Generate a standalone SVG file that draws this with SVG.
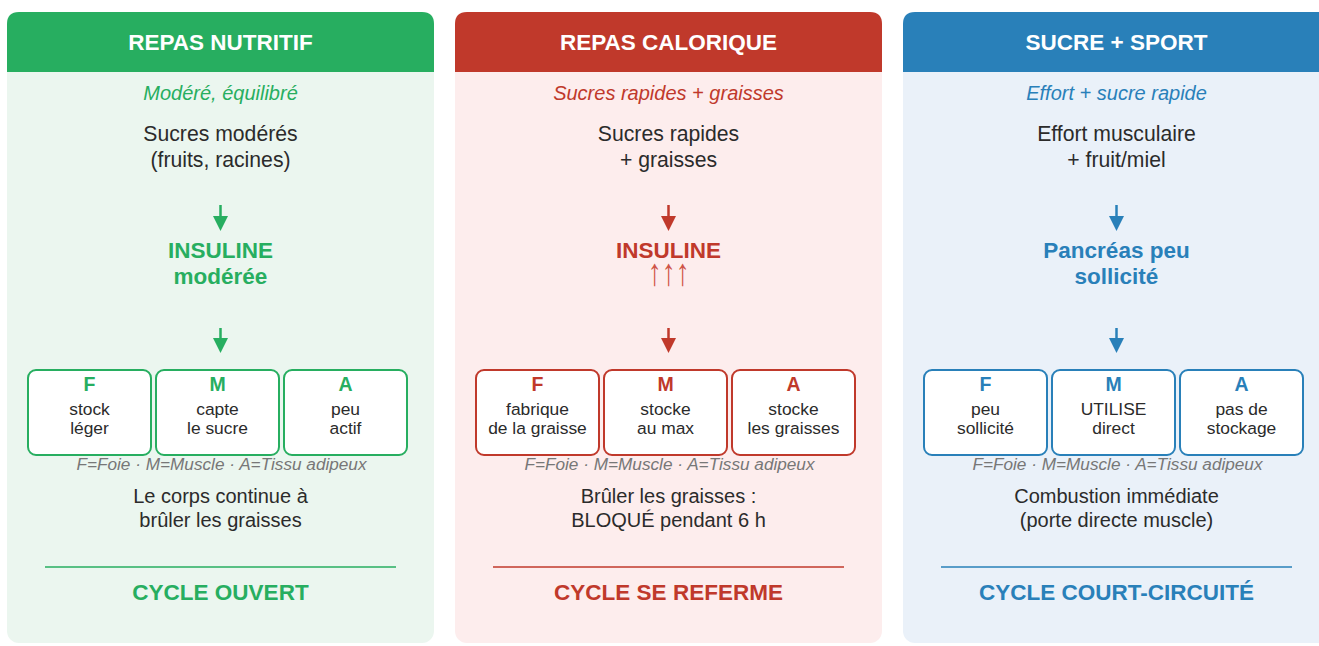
<svg xmlns="http://www.w3.org/2000/svg" width="1319" height="646" viewBox="0 0 1319 646">
<style>
text{font-family:"Liberation Sans",Arial,sans-serif;text-anchor:middle}
.hd{font-size:22.5px;font-weight:bold;fill:#fff}
.sub{font-size:20px;font-style:italic}
.body{font-size:21.2px;fill:#2b2b2b}
.body2{font-size:20px;fill:#2b2b2b}
.big{font-size:22.5px;font-weight:bold}
.let{font-size:19.5px;font-weight:bold}
.bt{font-size:17.4px;fill:#2b2b2b}
.leg{font-size:17.2px;font-style:italic;fill:#777}
.box{fill:#fff;stroke-width:2}
.g .c{fill:#27ae60}.g .s{stroke:#27ae60}
.r .c{fill:#c0392b}.r .s{stroke:#c0392b}
.b .c{fill:#2980b9}.b .s{stroke:#2980b9}
</style>
<defs>
<path id="hdr" d="M7,72 V24 Q7,12 19,12 H422 Q434,12 434,24 V72 Z"/>
</defs>

<g id="panel-nutritif" class="g">
<rect x="7" y="12" width="427" height="631" rx="12" fill="#ebf6ef"/>
<use href="#hdr" class="c"/>
<text class="hd" x="220.5" y="50">REPAS NUTRITIF</text>
<text class="sub c" x="220.5" y="100">Modéré, équilibré</text>
<text class="body" x="220.5" y="141">Sucres modérés</text>
<text class="body" x="220.5" y="167">(fruits, racines)</text>
<text class="big c" x="220.5" y="258">INSULINE</text>
<text class="big c" x="220.5" y="284">modérée</text>
<g id="nutritif-F"><rect class="box s" x="28" y="370" width="123" height="85" rx="8"/><text class="let c" x="89.5" y="391">F</text><text class="bt" x="89.5" y="415">stock</text><text class="bt" x="89.5" y="434">léger</text></g>
<g id="nutritif-M"><rect class="box s" x="156" y="370" width="123" height="85" rx="8"/><text class="let c" x="217.5" y="391">M</text><text class="bt" x="217.5" y="415">capte</text><text class="bt" x="217.5" y="434">le sucre</text></g>
<g id="nutritif-A"><rect class="box s" x="284" y="370" width="123" height="85" rx="8"/><text class="let c" x="345.5" y="391">A</text><text class="bt" x="345.5" y="415">peu</text><text class="bt" x="345.5" y="434">actif</text></g>
<text class="leg" x="221.5" y="470">F=Foie · M=Muscle · A=Tissu adipeux</text>
<text class="body2" x="220.5" y="503">Le corps continue à</text>
<text class="body2" x="220.5" y="527">brûler les graisses</text>
<line class="s" x1="45" y1="567" x2="396" y2="567" stroke-width="1.6"/>
<text class="big c" x="220.5" y="600">CYCLE OUVERT</text>
</g>

<g id="panel-calorique" class="r" transform="translate(448,0)">
<rect x="7" y="12" width="427" height="631" rx="12" fill="#fdeded"/>
<use href="#hdr" class="c"/>
<text class="hd" x="220.5" y="50">REPAS CALORIQUE</text>
<text class="sub c" x="220.5" y="100">Sucres rapides + graisses</text>
<text class="body" x="220.5" y="141">Sucres rapides</text>
<text class="body" x="220.5" y="167">+ graisses</text>
<text class="big c" x="220.5" y="258">INSULINE</text>
<text x="0" y="0" transform="translate(220.5,285) scale(1.4,1.9)" font-size="20" fill="#cf5447">↑↑↑</text>
<g id="calorique-F"><rect class="box s" x="28" y="370" width="123" height="85" rx="8"/><text class="let c" x="89.5" y="391">F</text><text class="bt" x="89.5" y="415">fabrique</text><text class="bt" x="89.5" y="434">de la graisse</text></g>
<g id="calorique-M"><rect class="box s" x="156" y="370" width="123" height="85" rx="8"/><text class="let c" x="217.5" y="391">M</text><text class="bt" x="217.5" y="415">stocke</text><text class="bt" x="217.5" y="434">au max</text></g>
<g id="calorique-A"><rect class="box s" x="284" y="370" width="123" height="85" rx="8"/><text class="let c" x="345.5" y="391">A</text><text class="bt" x="345.5" y="415">stocke</text><text class="bt" x="345.5" y="434">les graisses</text></g>
<text class="leg" x="221.5" y="470">F=Foie · M=Muscle · A=Tissu adipeux</text>
<text class="body2" x="220.5" y="503">Brûler les graisses :</text>
<text class="body2" x="220.5" y="527">BLOQUÉ pendant 6 h</text>
<line class="s" x1="45" y1="567" x2="396" y2="567" stroke-width="1.6"/>
<text class="big c" x="220.5" y="600">CYCLE SE REFERME</text>
</g>

<g id="panel-sport" class="b" transform="translate(896,0)">
<rect x="7" y="12" width="427" height="631" rx="12" fill="#eaf1f9"/>
<use href="#hdr" class="c"/>
<text class="hd" x="220.5" y="50">SUCRE + SPORT</text>
<text class="sub c" x="220.5" y="100">Effort + sucre rapide</text>
<text class="body" x="220.5" y="141">Effort musculaire</text>
<text class="body" x="220.5" y="167">+ fruit/miel</text>
<text class="big c" x="220.5" y="258">Pancréas peu</text>
<text class="big c" x="220.5" y="284">sollicité</text>
<g id="sport-F"><rect class="box s" x="28" y="370" width="123" height="85" rx="8"/><text class="let c" x="89.5" y="391">F</text><text class="bt" x="89.5" y="415">peu</text><text class="bt" x="89.5" y="434">sollicité</text></g>
<g id="sport-M"><rect class="box s" x="156" y="370" width="123" height="85" rx="8"/><text class="let c" x="217.5" y="391">M</text><text class="bt" x="217.5" y="415">UTILISE</text><text class="bt" x="217.5" y="434">direct</text></g>
<g id="sport-A"><rect class="box s" x="284" y="370" width="123" height="85" rx="8"/><text class="let c" x="345.5" y="391">A</text><text class="bt" x="345.5" y="415">pas de</text><text class="bt" x="345.5" y="434">stockage</text></g>
<text class="leg" x="221.5" y="470">F=Foie · M=Muscle · A=Tissu adipeux</text>
<text class="body2" x="220.5" y="503">Combustion immédiate</text>
<text class="body2" x="220.5" y="527">(porte directe muscle)</text>
<line class="s" x1="45" y1="567" x2="396" y2="567" stroke-width="1.6"/>
<text class="big c" x="220.5" y="600">CYCLE COURT-CIRCUITÉ</text>
</g>

<g id="connectors">
<g id="arrows-nutritif" fill="#27ae60" stroke="#27ae60">
<line x1="220.5" y1="205" x2="220.5" y2="218" stroke-width="2.5"/><polygon points="213,216 228,216 220.5,231" stroke="none"/>
<line x1="220.5" y1="328" x2="220.5" y2="340" stroke-width="2.5"/><polygon points="213,338 228,338 220.5,353" stroke="none"/>
</g>
<g id="arrows-calorique" fill="#c0392b" stroke="#c0392b" transform="translate(448,0)">
<line x1="220.5" y1="205" x2="220.5" y2="218" stroke-width="2.5"/><polygon points="213,216 228,216 220.5,231" stroke="none"/>
<line x1="220.5" y1="328" x2="220.5" y2="340" stroke-width="2.5"/><polygon points="213,338 228,338 220.5,353" stroke="none"/>
</g>
<g id="arrows-sport" fill="#2980b9" stroke="#2980b9" transform="translate(896,0)">
<line x1="220.5" y1="205" x2="220.5" y2="218" stroke-width="2.5"/><polygon points="213,216 228,216 220.5,231" stroke="none"/>
<line x1="220.5" y1="328" x2="220.5" y2="340" stroke-width="2.5"/><polygon points="213,338 228,338 220.5,353" stroke="none"/>
</g>
</g>
</svg>
